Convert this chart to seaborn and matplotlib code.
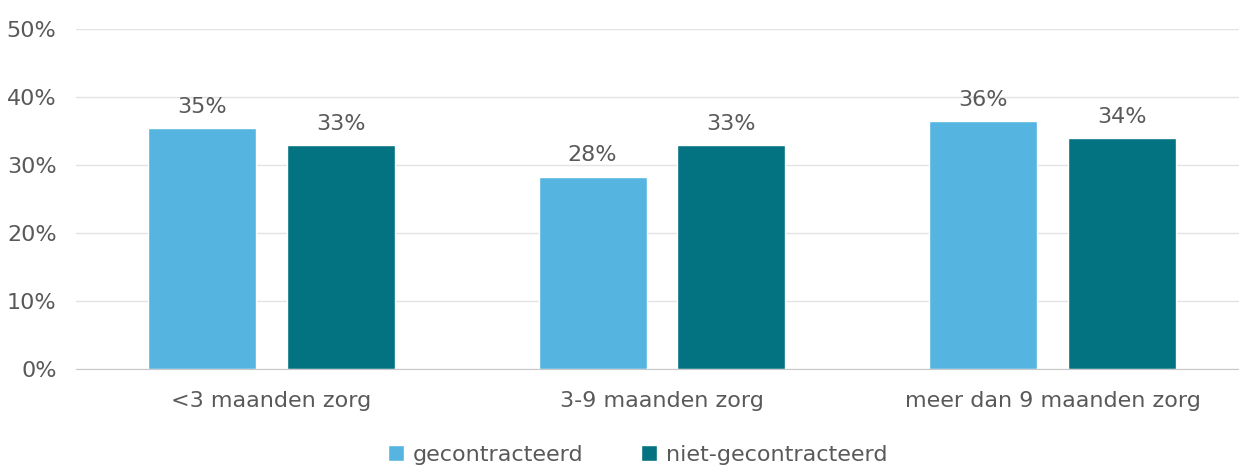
import pandas as pd
import matplotlib.pyplot as plt
import seaborn as sns

categories = ['<3 maanden zorg', '3-9 maanden zorg', 'meer dan 9 maanden zorg']
series_names = ['gecontracteerd', 'niet-gecontracteerd']
gecontracteerd = [35.4, 28.3, 36.4]
niet_gecontracteerd = [32.9, 32.9, 34.0]
colors = ['#56B5E0', '#037382']
text_color = '#595959'

df = pd.DataFrame({
    'categorie': categories * 2,
    'groep': [series_names[0]] * 3 + [series_names[1]] * 3,
    'waarde': gecontracteerd + niet_gecontracteerd,
})

sns.set_style('white')
plt.rcParams['font.family'] = ['DejaVu Sans']

fig = plt.figure(figsize=(12.39, 4.66), dpi=100)
ax = fig.add_axes([0.0613, 0.208, 0.9387, 0.73])

sns.barplot(data=df, x='categorie', y='waarde', hue='groep', order=categories,
            hue_order=series_names, palette=colors, width=0.71, gap=0.22,
            saturation=1, ax=ax, legend=True)

for cont in ax.containers:
    ax.bar_label(cont, labels=[f'{v:.0f}%' for v in cont.datavalues],
                 padding=8, fontsize=16, color=text_color)

ax.set_ylim(0, 50)
ax.set_xlim(-0.5, 2.477)
ax.set_yticks(range(0, 51, 10))
ax.set_yticklabels([f'{t}%' for t in range(0, 51, 10)])
ax.yaxis.grid(True, color='#e3e3e3', linewidth=1)
ax.set_axisbelow(True)
for s in ['top', 'right', 'left']:
    ax.spines[s].set_visible(False)
ax.spines['bottom'].set_color('#c8c8c8')
ax.tick_params(axis='both', length=0, labelsize=16, colors=text_color)
ax.tick_params(axis='y', pad=14)
ax.tick_params(axis='x', pad=16)
ax.set_xlabel('')
ax.set_ylabel('')

handles, labels = ax.get_legend_handles_labels()
ax.legend(handles, labels, loc='lower center', bbox_to_anchor=(0.483, -0.34),
          ncol=2, frameon=False, fontsize=16, handlelength=0.7, handleheight=0.7,
          handletextpad=0.4, columnspacing=2.6, labelcolor=text_color)

fig.savefig('out.png', dpi=100)
